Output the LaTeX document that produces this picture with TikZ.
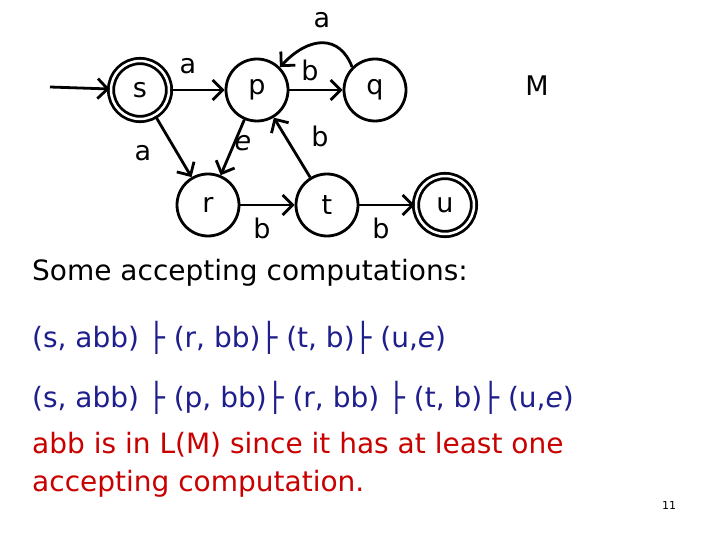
\documentclass[tikz,border=0pt]{standalone}
\usepackage{fontspec}
\setmainfont{DejaVu Sans}
\usetikzlibrary{arrows.meta}
\definecolor{navy}{RGB}{30,30,140}
\definecolor{dred}{RGB}{200,0,0}
\begin{document}
\begin{tikzpicture}[x=1pt,y=-1pt,
  st/.style={circle,draw,line width=2.8pt,minimum size=62pt,inner sep=0pt,font=\fontsize{27}{30}\selectfont},
  acc/.style={st,double,double distance=2.5pt,minimum size=58pt},
  tr/.style={-{Straight Barb[length=10pt,width=20pt,line width=2.8pt]},line width=2.8pt},
  lb/.style={font=\fontsize{27}{30}\selectfont},
  tx/.style={anchor=west,font=\fontsize{28}{38}\selectfont,inner sep=0pt}]
\useasboundingbox (0,0) rectangle (720,540);
\node[acc] (s) at (140,90) {s};
\node[st] (p) at (257,90) {p};
\node[st] (q) at (375,90) {q};
\node[st] (r) at (208,205) {r};
\node[st] (t) at (327,205) {t};
\node[acc] (u) at (445,205) {u};
\node[lb] (M) at (537,86) {M};
\coordinate (start) at (50,87);
\draw[tr] (start) -- (s);
\draw[tr] (s) -- (p);
\draw[tr] (p) -- (q);
\draw[tr] (q.north west) .. controls (340,35) and (310,35) .. (p.north east);
\draw[tr] (s) -- (r);
\draw[tr] (p) -- (r);
\draw[tr] (t) -- (p);
\draw[tr] (r) -- (t);
\draw[tr] (t) -- (u);
\node[lb] (la1) at (322,20) {a};
\node[lb] (la2) at (188,66) {a};
\node[lb] (lb1) at (310,70) {b};
\node[lb] (la3) at (143,153) {a};
\node[lb] (le) at (243,143) {\itshape e};
\node[lb] (lb2) at (320,136) {b};
\node[lb] (lb3) at (262,228) {b};
\node[lb] (lb4) at (381,228) {b};
\node[tx] (l1) at (32,273) {Some accepting computations:};
\node[tx,text=navy] (l2) at (32,338) {(s, abb) ├ (r, bb)├ (t, b)├ (u,\textit{e})};
\node[tx,text=navy] (l3) at (32,398) {(s, abb) ├ (p, bb)├ (r, bb) ├ (t, b)├ (u,\textit{e})};
\node[tx,text=dred,align=left,anchor=north west] (l4) at (32,432) {abb is in L(M) since it has at least one\\accepting computation.};
\node[font=\fontsize{11}{12}\selectfont] (n) at (669,505) {11};
\end{tikzpicture}
\end{document}
